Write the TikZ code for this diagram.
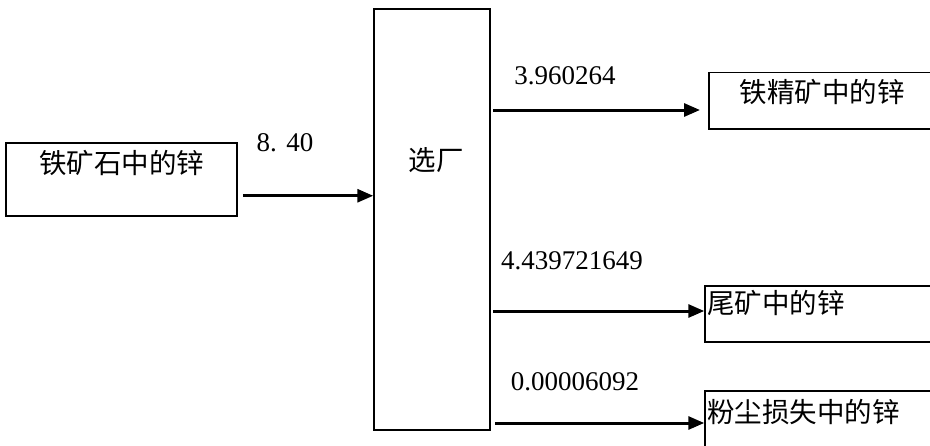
\documentclass[tikz,border=0pt]{standalone}
\usepackage{fontspec}
\setmainfont{Liberation Serif}
\newfontfamily\cjk{Noto Sans CJK SC}
\usetikzlibrary{arrows.meta,calc}
\tikzset{
  box/.style={draw=black, line width=1.5pt, rectangle, inner sep=0pt},
  cjktext/.style={font=\cjk\fontsize{27.5}{30}\selectfont, inner sep=0pt},
  numtext/.style={font=\fontsize{27}{30}\selectfont, inner sep=0pt},
  flow/.style={line width=3pt, -{Triangle[length=16pt,width=13pt]}}
}
\begin{document}
\begin{tikzpicture}[x=1pt,y=-1pt]
\useasboundingbox (0,0) rectangle (930,445);
\clip (0,0) rectangle (930,445);
% boxes
\node[box, minimum width=231, minimum height=73] (ore) at (121.5,179.5) {};
\node[box, minimum width=116, minimum height=421] (plant) at (432,219.5) {};
\node[box, minimum width=251, minimum height=56.5] (conc) at (834.5,100.75) {};
\node[box, minimum width=255, minimum height=56] (tail) at (832.5,314) {};
\node[box, minimum width=255, minimum height=79] (dust) at (832.5,430.5) {};
% texts
\node[cjktext] (oreT) at (121.5,163) {铁矿石中的锌};
\node[cjktext] (plantT) at (436,160) {选厂};
\node[cjktext] (concT) at (822,92) {铁精矿中的锌};
\node[cjktext, anchor=west] (tailT) at (707,303) {尾矿中的锌};
\node[cjktext, anchor=west] (dustT) at (707,412) {粉尘损失中的锌};
% connector end points
\coordinate (a0) at ($(ore.south east)+(5,-21)$);
\coordinate (a1) at (a0 -| plant.west);
\coordinate (b0) at (493,110);
\coordinate (b1) at (700,110);
\coordinate (c0) at (493,311);
\coordinate (c1) at (tail.west |- c0);
\coordinate (d0) at (495,423);
\coordinate (d1) at (dust.west |- d0);
\draw[flow] (a0) -- (a1);
\draw[flow] (b0) -- (b1);
\draw[flow] (c0) -- (c1);
\draw[flow] (d0) -- (d1);
% labels
\node[numtext] (la) at (285,143) {8.\kern0.35em40};
\node[numtext] (lb) at (565,76) {3.960264};
\node[numtext] (lc) at (572,261) {4.439721649};
\node[numtext] (ld) at (575,382) {0.00006092};
\end{tikzpicture}
\end{document}
